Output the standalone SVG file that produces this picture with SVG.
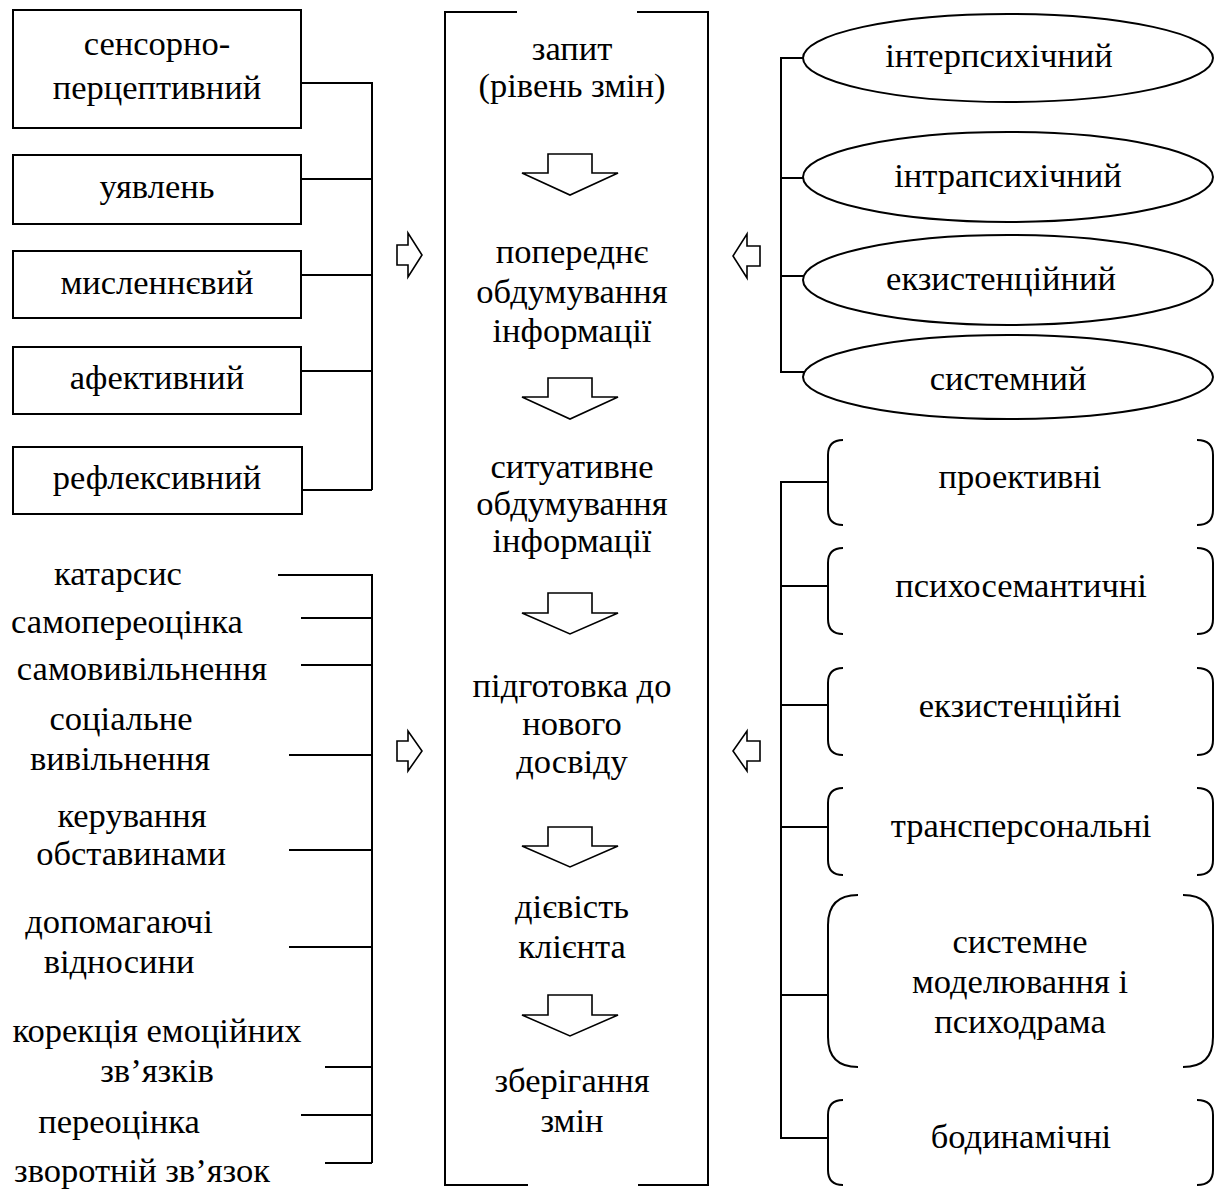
<svg xmlns="http://www.w3.org/2000/svg" width="1221" height="1190" viewBox="0 0 1221 1190">
<style>
text{font-family:"Liberation Serif","Times New Roman",serif;font-size:34.5px;fill:#000;text-anchor:middle}
.b{fill:#fff;stroke:#000;stroke-width:2}
.l{fill:none;stroke:#000;stroke-width:2}
.a{fill:#fff;stroke:#000;stroke-width:1.6;stroke-linejoin:miter}
</style>
<rect width="1221" height="1190" fill="#fff"/>
<g id="connectors">
<path class="l" d="M301,83H372V490M301,179H372M301,275H372M301,371H372M302,490H372"/>
<path class="l" d="M278,575H372V1163M301,618H372M301,665H372M289,755H372M289,850H372M289,947H372M325,1067H372M301,1115H372M325,1163H372"/>
<path class="l" d="M803,58H781V372H806M781,178H803M781,276H804"/>
<path class="l" d="M828,482H781V1138H828M781,586H828M781,705H828M781,827H828M781,995H828"/>
<polygon class="a" points="397,245 408,245 408,233 422,255 408,277 408,265 397,265"/>
<polygon class="a" points="397,741 408,741 408,731 422,751 408,771 408,761 397,761"/>
<polygon class="a" points="760,246 747,246 747,234 733,256 747,278 747,266 760,266"/>
<polygon class="a" points="760,741 747,741 747,731 733,751 747,771 747,761 760,761"/>
</g>
<g id="process">
<path class="l" d="M517,12H445V1185H528M637,12H708V1185H638"/>
<text x="572" y="60">запит</text>
<text x="572" y="97">(рівень змін)</text>
<polygon class="a" points="548,154 592,154 592,173 618,173 570,195 522,173 548,173"/>
<text x="572" y="263">попереднє</text>
<text x="572" y="303">обдумування</text>
<text x="572" y="342">інформації</text>
<polygon class="a" points="548,378 592,378 592,397 618,397 570,419 522,397 548,397"/>
<text x="572" y="478">ситуативне</text>
<text x="572" y="515">обдумування</text>
<text x="572" y="552">інформації</text>
<polygon class="a" points="548,593 592,593 592,613 618,613 570,634 522,613 548,613"/>
<text x="572" y="697">підготовка до</text>
<text x="572" y="735">нового</text>
<text x="572" y="773">досвіду</text>
<polygon class="a" points="548,827 592,827 592,846 618,846 570,867 522,846 548,846"/>
<text x="572" y="918">дієвість</text>
<text x="572" y="958">клієнта</text>
<polygon class="a" points="548,995 592,995 592,1015 618,1015 570,1036 522,1015 548,1015"/>
<text x="572" y="1092">зберігання</text>
<text x="572" y="1132">змін</text>
</g>
<g id="box-sensory"><rect class="b" x="13" y="10" width="288" height="118"/><text x="157" y="55">сенсорно-</text><text x="157" y="99">перцептивний</text></g>
<g id="box-imagery"><rect class="b" x="13" y="155" width="288" height="69"/><text x="157" y="198">уявлень</text></g>
<g id="box-thinking"><rect class="b" x="13" y="251" width="288" height="67"/><text x="157" y="294">мисленнєвий</text></g>
<g id="box-affective"><rect class="b" x="13" y="347" width="288" height="67"/><text x="157" y="389">афективний</text></g>
<g id="box-reflexive"><rect class="b" x="13" y="447" width="289" height="67"/><text x="157" y="489">рефлексивний</text></g>
<g id="list-mechanisms">
<text x="118" y="585">катарсис</text>
<text x="127" y="633">самопереоцінка</text>
<text x="142" y="680">самовивільнення</text>
<text x="121" y="730">соціальне</text>
<text x="120" y="770">вивільнення</text>
<text x="132" y="827">керування</text>
<text x="131" y="865">обставинами</text>
<text x="119" y="933">допомагаючі</text>
<text x="119" y="973">відносини</text>
<text x="157" y="1042">корекція емоційних</text>
<text x="157" y="1082">зв’язків</text>
<text x="119" y="1133">переоцінка</text>
<text x="142" y="1182">зворотній зв’язок</text>
</g>
<g id="ell-inter"><ellipse class="b" cx="1008" cy="58" rx="205" ry="44"/><text x="999" y="67">інтерпсихічний</text></g>
<g id="ell-intra"><ellipse class="b" cx="1008" cy="177" rx="205" ry="45"/><text x="1008" y="187">інтрапсихічний</text></g>
<g id="ell-exist"><ellipse class="b" cx="1008" cy="280" rx="205" ry="45"/><text x="1001" y="290">екзистенційний</text></g>
<g id="ell-system"><ellipse class="b" cx="1008" cy="377" rx="205" ry="42"/><text x="1008" y="390">системний</text></g>
<g id="br-projective"><path class="l" d="M843,440Q828,440 828,455V510Q828,525 843,525M1197,440Q1213,440 1213,455V510Q1213,525 1197,525"/><text x="1020" y="488">проективні</text></g>
<g id="br-psychosem"><path class="l" d="M843,548Q828,548 828,563V619Q828,634 843,634M1197,548Q1213,548 1213,563V619Q1213,634 1197,634"/><text x="1021" y="597">психосемантичні</text></g>
<g id="br-exist"><path class="l" d="M843,668Q828,668 828,683V740Q828,755 843,755M1197,668Q1213,668 1213,683V740Q1213,755 1197,755"/><text x="1020" y="717">екзистенційні</text></g>
<g id="br-transpers"><path class="l" d="M843,788Q828,788 828,803V860Q828,875 843,875M1197,788Q1213,788 1213,803V860Q1213,875 1197,875"/><text x="1021" y="837">трансперсональні</text></g>
<g id="br-sysmodel"><path class="l" d="M858,895Q828,895 828,925V1037Q828,1067 858,1067M1183,895Q1213,895 1213,925V1037Q1213,1067 1183,1067"/><text x="1020" y="953">системне</text><text x="1020" y="993">моделювання і</text><text x="1020" y="1033">психодрама</text></g>
<g id="br-body"><path class="l" d="M843,1100Q828,1100 828,1115V1170Q828,1185 843,1185M1197,1100Q1213,1100 1213,1115V1170Q1213,1185 1197,1185"/><text x="1021" y="1148">бодинамічні</text></g>
</svg>
